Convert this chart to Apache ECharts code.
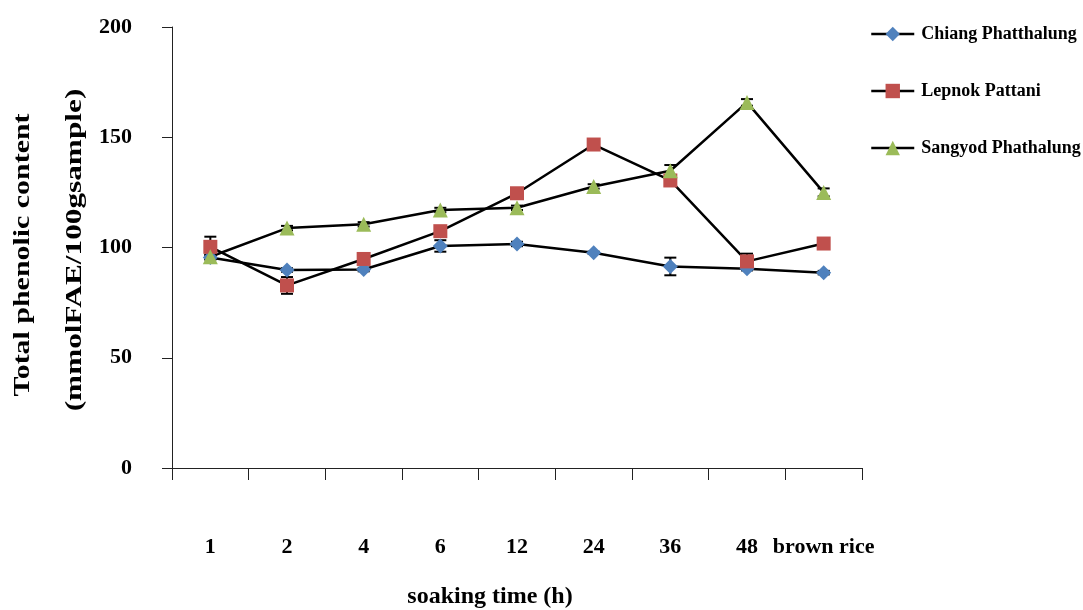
<!DOCTYPE html>
<html>
<head>
<meta charset="utf-8">
<script src="https://cdn.jsdelivr.net/npm/echarts@6/dist/echarts.min.js"></script>
<style>
html,body{margin:0;padding:0;background:#fff;}
#chart{width:1083px;height:610px;}
</style>
</head>
<body>
<div id="chart"></div>
<script>
const categories = ['1', '2', '4', '6', '12', '24', '36', '48', 'brown rice'];
const yTicks = [0, 50, 100, 150, 200];
const chiang = [95.5, 89.8, 90, 100.7, 101.6, 97.6, 91.4, 90.4, 88.6];
const lepnok = [100.3, 82.8, 94.8, 107.4, 124.6, 146.7, 130.4, 93.7, 101.8];
const sangyod = [95.8, 108.8, 110.5, 117, 118, 127.7, 134.8, 165.8, 125];
const chiangErr = [1, 0.8, 0.8, 2.6, 1, 0.5, 4, 0.8, 0.8];
const lepnokErr = [4.6, 3.8, 1, 1, 1, 1, 1, 3.5, 1];
const sangyodErr = [1, 1, 1, 1, 1, 1, 2.6, 1.5, 1.8];
const seriesNames = ['Chiang Phatthalung', 'Lepnok Pattani', 'Sangyod Phathalung'];

const FONT = '"Liberation Serif", "Times New Roman", serif';
const chart = echarts.init(document.getElementById('chart'), null, {renderer: 'canvas'});

function errData(vals, errs) {
  return vals.map((v, i) => [i, v, errs[i]]);
}
function renderErr(params, api) {
  const i = api.value(0), v = api.value(1), e = api.value(2);
  const hi = api.coord([i, v + e]);
  const lo = api.coord([i, v - e]);
  const half = 6;
  const st = {stroke: '#000', lineWidth: 2};
  return {
    type: 'group',
    children: [
      {type: 'line', shape: {x1: hi[0], y1: hi[1], x2: lo[0], y2: lo[1]}, style: st},
      {type: 'line', shape: {x1: hi[0] - half, y1: hi[1], x2: hi[0] + half, y2: hi[1]}, style: st},
      {type: 'line', shape: {x1: lo[0] - half, y1: lo[1], x2: lo[0] + half, y2: lo[1]}, style: st}
    ]
  };
}
function errSeries(name, vals, errs) {
  return {
    type: 'custom', name: name + ' err', data: errData(vals, errs),
    renderItem: renderErr, encode: {x: 0, y: 1}, z: 1, silent: true
  };
}
function lineSeries(name, vals, color, symbol, size) {
  return {
    type: 'line', name: name, data: vals, symbol: symbol, symbolSize: size,
    lineStyle: {color: '#000', width: 2.5},
    itemStyle: {color: color, borderWidth: 0},
    emphasis: {disabled: true},
    z: 3, animation: false
  };
}

chart.setOption({
  animation: false,
  backgroundColor: '#fff',
  grid: {left: 172, right: 221, top: 27, bottom: 142},
  legend: {
    orient: 'vertical', left: 865, top: 20,
    itemWidth: 43, itemHeight: 18, itemGap: 39,
    data: seriesNames,
    lineStyle: {color: '#000', width: 2.5},
    textStyle: {fontFamily: FONT, fontWeight: 'bold', fontSize: 18, color: '#000', padding: [0, 0, 0, 2]}
  },
  xAxis: {
    type: 'category', data: categories, boundaryGap: true,
    axisLine: {lineStyle: {color: '#222', width: 1}},
    axisTick: {show: true, length: 12, inside: false, lineStyle: {color: '#222'}},
    axisLabel: {fontFamily: FONT, fontWeight: 'bold', fontSize: 22, color: '#000', margin: 68, interval: 0}
  },
  yAxis: {
    type: 'value', min: yTicks[0], max: yTicks[yTicks.length - 1], interval: 50,
    axisLine: {show: true, lineStyle: {color: '#222', width: 1}},
    axisTick: {show: true, length: 10, lineStyle: {color: '#222'}},
    splitLine: {show: false},
    axisLabel: {fontFamily: FONT, fontWeight: 'bold', fontSize: 22, color: '#000', margin: 40}
  },
  graphic: [
    {type: 'text', x: 23, y: 255, rotation: Math.PI / 2, scaleX: 1.3,
     style: {text: 'Total phenolic content', font: 'bold 23px ' + FONT, fill: '#000', align: 'center', verticalAlign: 'middle'}},
    {type: 'text', x: 75, y: 250, rotation: Math.PI / 2, scaleX: 1.36,
     style: {text: '(mmolFAE/100gsample)', font: 'bold 23px ' + FONT, fill: '#000', align: 'center', verticalAlign: 'middle'}},
    {type: 'text', x: 490, y: 597,
     style: {text: 'soaking time (h)', font: 'bold 24px ' + FONT, fill: '#000', align: 'center', verticalAlign: 'middle'}}
  ],
  series: [
    errSeries(seriesNames[0], chiang, chiangErr),
    errSeries(seriesNames[1], lepnok, lepnokErr),
    errSeries(seriesNames[2], sangyod, sangyodErr),
    lineSeries(seriesNames[0], chiang, '#4F81BD', 'diamond', 15),
    lineSeries(seriesNames[1], lepnok, '#C0504D', 'rect', 14),
    lineSeries(seriesNames[2], sangyod, '#9BBB59', 'triangle', 15)
  ]
});
</script>
</body>
</html>
